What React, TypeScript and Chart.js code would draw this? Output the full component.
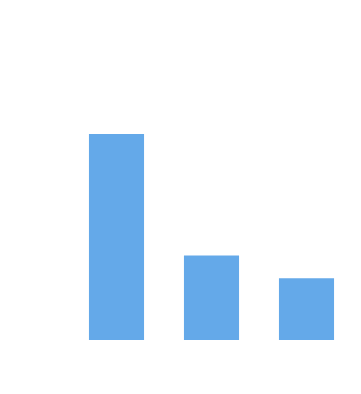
import { useEffect, useRef } from "react";
import { Chart, registerables } from "chart.js";

Chart.register(...registerables);

const categories = ["A", "B", "C"];
const values = [100, 41, 30];
const yMax = 100;

export default function App() {
  const ref = useRef<HTMLCanvasElement | null>(null);
  useEffect(() => {
    if (!ref.current) return;
    const chart = new Chart(ref.current, {
      type: "bar",
      data: {
        labels: categories,
        datasets: [
          {
            data: values,
            backgroundColor: "#64a9e9",
            borderWidth: 0,
            barPercentage: 1,
            categoryPercentage: 0.58,
          },
        ],
      },
      options: {
        responsive: false,
        animation: false,
        layout: { padding: { left: 61, right: 0, top: 126, bottom: 46 } },
        plugins: { legend: { display: false }, tooltip: { enabled: false } },
        scales: {
          x: { display: false },
          y: { display: false, min: 0, max: yMax },
        },
      },
    });
    return () => chart.destroy();
  }, []);
  return <canvas ref={ref} width={346} height={378} style={{ display: "block" }} />;
}
